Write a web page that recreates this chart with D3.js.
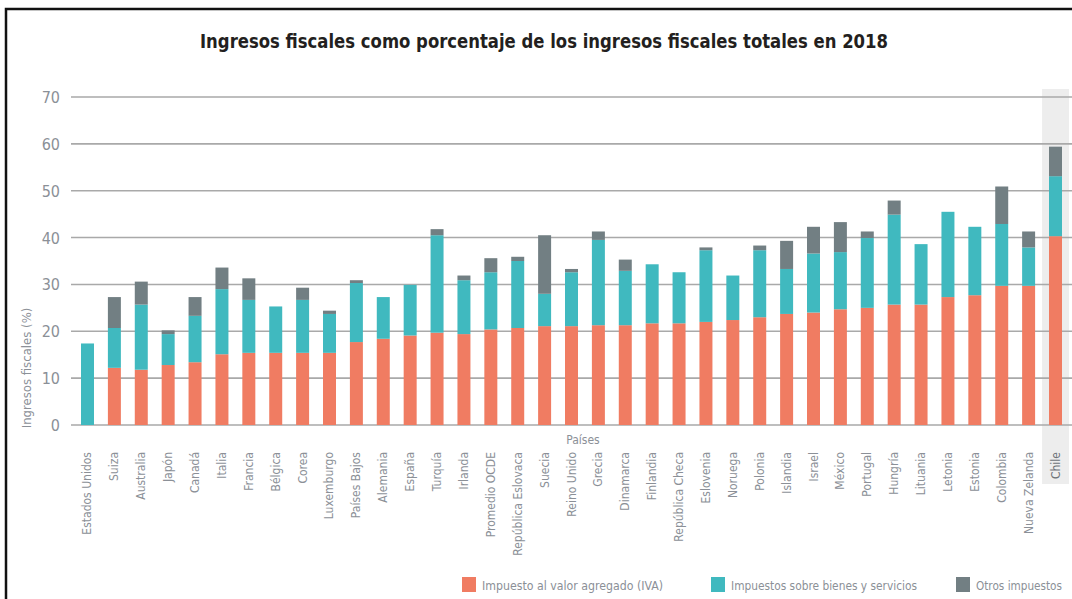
<!DOCTYPE html>
<html>
  <head>
    <meta charset="utf-8">
    <title>Ingresos fiscales 2018</title>
    <script src="https://d3js.org/d3.v7.min.js"></script>
    <style>
      body { margin: 0; background: #fff; }
      text { font-family: "DejaVu Sans Condensed", "Liberation Sans Narrow", sans-serif; }
    </style>
  </head>
  <body>
    <div id="vis"></div>
    <script>
        const width = 1072;
        const height = 599;

        // datos (% de ingresos fiscales totales)
        const paises = ["Estados Unidos", "Suiza", "Australia", "Japón", "Canadá", "Italia", "Francia",
          "Bélgica", "Corea", "Luxemburgo", "Países Bajos", "Alemania", "España", "Turquía", "Irlanda",
          "Promedio OCDE", "República Eslovaca", "Suecia", "Reino Unido", "Grecia", "Dinamarca",
          "Finlandia", "República Checa", "Eslovenia", "Noruega", "Polonia", "Islandia", "Israel",
          "México", "Portugal", "Hungría", "Lituania", "Letonia", "Estonia", "Colombia",
          "Nueva Zelanda", "Chile"];
        const iva = [0, 12.2, 11.8, 12.8, 13.4, 15.1, 15.4, 15.4, 15.4, 15.4, 17.7, 18.4, 19.1, 19.7,
          19.4, 20.4, 20.7, 21.1, 21.1, 21.3, 21.3, 21.7, 21.7, 22.0, 22.4, 23.0, 23.7, 24.0, 24.7,
          25.0, 25.7, 25.7, 27.3, 27.7, 29.7, 29.7, 40.3];
        const bienes = [17.4, 8.5, 13.9, 6.6, 9.9, 13.9, 11.3, 9.9, 11.3, 8.3, 12.6, 8.9, 10.8, 20.8,
          11.5, 12.2, 14.3, 6.9, 11.5, 18.2, 11.6, 12.6, 10.9, 15.3, 9.5, 14.3, 9.6, 12.6, 12.2,
          14.9, 19.2, 12.9, 18.2, 14.6, 13.2, 8.2, 12.8];
        const otros = [0, 6.6, 4.9, 0.8, 4.0, 4.6, 4.6, 0, 2.6, 0.7, 0.6, 0, 0, 1.3, 1.0, 3.0, 0.9,
          12.5, 0.7, 1.8, 2.4, 0, 0, 0.6, 0, 1.0, 6.0, 5.7, 6.4, 1.4, 3.0, 0, 0, 0, 8.0, 3.4, 6.3];
        const yTicks = [0, 10, 20, 30, 40, 50, 60, 70];

        const series = ["iva", "bienes", "otros"];
        const nombres = ["Impuesto al valor agregado (IVA)", "Impuestos sobre bienes y servicios", "Otros impuestos"];
        const colores = ["#f07c62", "#40b9bf", "#727f83"];

        const datos = paises.map(function(p, i) {
          return { pais: p, iva: iva[i], bienes: bienes[i], otros: otros[i] };
        });

        let vis = d3.select("#vis")
                      .append("svg")
                      .attr("width", width)
                      .attr("height", height);

        // marco
        vis.append("rect")
           .attr("x", 6).attr("y", 9)
           .attr("width", width + 20).attr("height", height + 20)
           .attr("fill", "none")
           .attr("stroke", "#111")
           .attr("stroke-width", 2.5);

        const x = d3.scaleBand()
                    .domain(paises)
                    .range([71, 1072])
                    .paddingInner(0.517)
                    .paddingOuter(0.372);

        const y = d3.scaleLinear()
                    .domain([0, 70])
                    .range([425, 97]);

        // fondo gris de Chile
        vis.append("rect")
           .attr("x", x("Chile") + x.bandwidth() / 2 - x.step() / 2)
           .attr("y", 89)
           .attr("width", x.step())
           .attr("height", 395)
           .attr("fill", "#ededed");

        // lineas de grilla
        vis.append("g")
           .selectAll("line")
           .data(yTicks)
           .enter()
           .append("line")
           .attr("x1", 71).attr("x2", width)
           .attr("y1", d => y(d)).attr("y2", d => y(d))
           .attr("stroke", "#a9a9a9")
           .attr("stroke-width", 1.6);

        vis.append("g")
           .selectAll("text")
           .data(yTicks)
           .enter()
           .append("text")
           .attr("x", 60)
           .attr("y", d => y(d) + 6)
           .attr("text-anchor", "end")
           .attr("font-size", 16)
           .attr("fill", "#8b9097")
           .text(d => d);

        // barras apiladas
        const stack = d3.stack().keys(series)(datos);

        vis.append("g")
           .selectAll("g")
           .data(stack)
           .enter()
           .append("g")
           .attr("fill", (d, i) => colores[i])
           .selectAll("rect")
           .data(d => d)
           .enter()
           .append("rect")
           .attr("x", d => x(d.data.pais))
           .attr("y", d => y(d[1]))
           .attr("width", x.bandwidth())
           .attr("height", d => y(d[0]) - y(d[1]));

        // etiquetas de paises
        vis.append("g")
           .selectAll("text")
           .data(paises)
           .enter()
           .append("text")
           .attr("transform", d => "translate(" + (x(d) + x.bandwidth() / 2 + 4) + ",452) rotate(-90)")
           .attr("text-anchor", "end")
           .attr("font-size", 12)
           .attr("fill", d => d == "Chile" ? "#6f747a" : "#8b9097")
           .text(d => d);

        vis.append("text")
           .attr("x", 583).attr("y", 444)
           .attr("text-anchor", "middle")
           .attr("font-size", 12)
           .attr("fill", "#8b9097")
           .text("Países");

        vis.append("text")
           .attr("transform", "translate(31,368) rotate(-90)")
           .attr("text-anchor", "middle")
           .attr("font-size", 13)
           .attr("fill", "#8b9097")
           .text("Ingresos fiscales (%)");

        // titulo
        vis.append("text")
           .attr("x", 200).attr("y", 48)
           .attr("font-size", 19)
           .attr("font-weight", "bold")
           .attr("fill", "#231f20")
           .attr("textLength", 688)
           .attr("lengthAdjust", "spacingAndGlyphs")
           .text("Ingresos fiscales como porcentaje de los ingresos fiscales totales en 2018");

        // leyenda
        const legX = [462, 711, 956];
        const legW = [181, 186, 86];
        const leg = vis.append("g")
                       .selectAll("g")
                       .data(nombres)
                       .enter()
                       .append("g")
                       .attr("transform", (d, i) => "translate(" + legX[i] + ",577)");

        leg.append("rect")
           .attr("width", 14).attr("height", 15)
           .attr("fill", (d, i) => colores[i]);

        leg.append("text")
           .attr("x", 20).attr("y", 13)
           .attr("font-size", 12.5)
           .attr("fill", "#8b9097")
           .attr("textLength", (d, i) => legW[i])
           .attr("lengthAdjust", "spacingAndGlyphs")
           .text(d => d);
    </script>
  </body>
</html>
